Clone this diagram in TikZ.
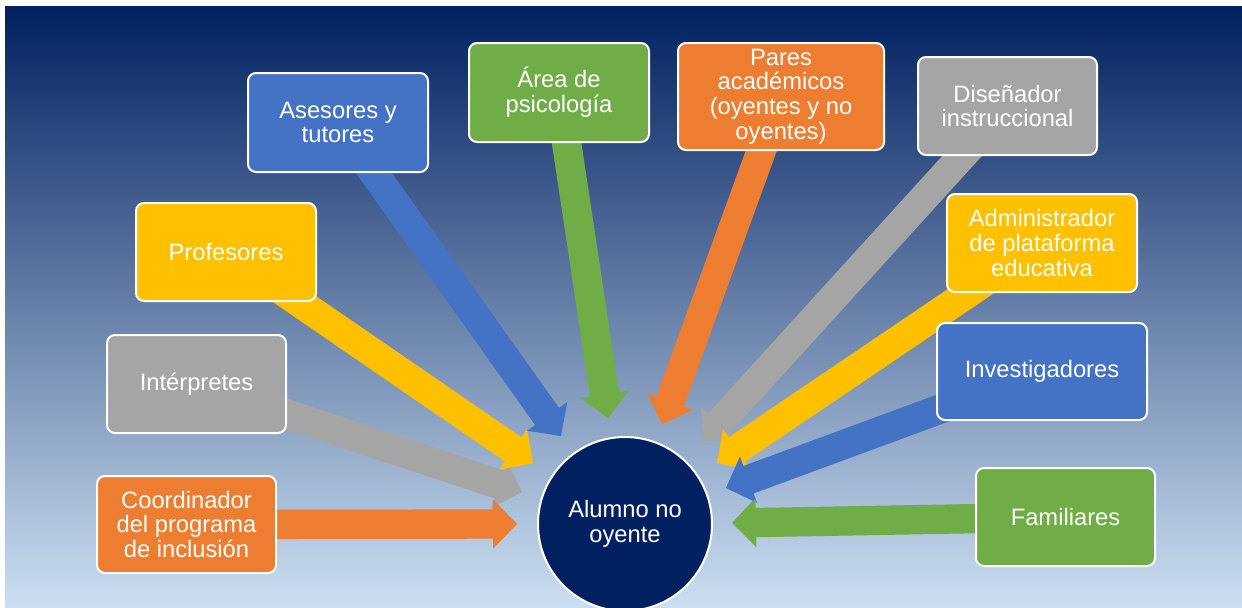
\documentclass[tikz,border=0pt]{standalone}
\usepackage{fontspec}
\setmainfont{Liberation Sans}
\usetikzlibrary{calc}
\definecolor{cblue}{HTML}{4472C4}
\definecolor{cgreen}{HTML}{70AD47}
\definecolor{corange}{HTML}{ED7D31}
\definecolor{cgray}{HTML}{A5A5A5}
\definecolor{cyellow}{HTML}{FFC000}
\definecolor{navy}{HTML}{002060}
\definecolor{bgtop}{HTML}{002060}
\definecolor{bgmid}{HTML}{7492BF}
\definecolor{bgbot}{HTML}{CCDFF1}
\pgfdeclarelayer{back}
\pgfdeclarelayer{arr}
\pgfsetlayers{back,arr,main}
% #1 source node, #2 tip coordinate, #3 colour
\newcommand\blockarrow[3]{%
  \path ($(#2)!18pt!(#1.center)$) coordinate (h);
  \fill[#3] ($(#1.center)!11pt!90:(#2)$) -- ($(h)!11pt!-90:(#1.center)$)
    -- ($(h)!18.5pt!-90:(#1.center)$) -- (#2) -- ($(h)!18.5pt!90:(#1.center)$)
    -- ($(h)!11pt!90:(#1.center)$) -- ($(#1.center)!11pt!-90:(#2)$) -- cycle;}
\begin{document}
\begin{tikzpicture}[x=0.75pt,y=-0.75pt,
  box/.style={rectangle, rounded corners=6pt, draw=white, line width=1.5pt,
    text=white, align=center, inner sep=0pt,
    font=\fontsize{17.8pt}{18.6pt}\selectfont},
  hub/.style={circle, fill=navy, draw=white, line width=1.5pt, text=white,
    align=center, minimum size=130.5pt, inner sep=0pt,
    font=\fontsize{17.8pt}{18.6pt}\selectfont}]
\useasboundingbox (0,0) rectangle (1242,607);
\begin{pgfonlayer}{back}
\fill[top color=bgtop, middle color=bgmid, bottom color=bgbot] (5,6) rectangle (1242,607);
\end{pgfonlayer}

\node[box, fill=cblue, minimum width=135pt, minimum height=74.25pt] (ases) at (338,122.5) {Asesores y\\tutores};
\node[box, fill=cgreen, minimum width=135pt, minimum height=74.25pt] (psic) at (559,92.5) {Área de\\psicología};
\node[box, fill=corange, minimum width=154.5pt, minimum height=80.25pt] (pares) at (781,96.5) {Pares\\académicos\\(oyentes y no\\oyentes)};
\node[box, fill=cgray, minimum width=134.25pt, minimum height=73.5pt] (dise) at (1007.5,106) {Diseñador\\instruccional};
\node[box, fill=cyellow, minimum width=142.5pt, minimum height=73.5pt] (admin) at (1042,243) {Administrador\\de plataforma\\educativa};
\node[box, fill=cblue, minimum width=157.5pt, minimum height=72.75pt] (inv) at (1042,371.5) {Investigadores};
\node[box, fill=cgreen, minimum width=134.25pt, minimum height=73.5pt] (fam) at (1065.5,517) {Familiares};
\node[box, fill=cyellow, minimum width=135pt, minimum height=73.5pt] (prof) at (226,252) {Profesores};
\node[box, fill=cgray, minimum width=134.25pt, minimum height=73.5pt] (inter) at (196.5,384) {Intérpretes};
\node[box, fill=corange, minimum width=134.25pt, minimum height=72.75pt] (coord) at (186.5,524.5) {Coordinador\\del programa\\de inclusión};

\node[hub] (alum) at (625,524) {Alumno no\\oyente};

\coordinate (tases) at (561,436);
\coordinate (tpsic) at (608,418);
\coordinate (tpares) at (662,424);
\coordinate (tdise) at (703,441);
\coordinate (tadmin) at (717,463);
\coordinate (tinv) at (726,488);
\coordinate (tfam) at (732,523);
\coordinate (tprof) at (533,463);
\coordinate (tinter) at (522,492);
\coordinate (tcoord) at (517,524);

\begin{pgfonlayer}{arr}
\blockarrow{inter}{tinter}{cgray}
\blockarrow{prof}{tprof}{cyellow}
\blockarrow{ases}{tases}{cblue}
\blockarrow{psic}{tpsic}{cgreen}
\blockarrow{pares}{tpares}{corange}
\blockarrow{dise}{tdise}{cgray}
\blockarrow{admin}{tadmin}{cyellow}
\blockarrow{inv}{tinv}{cblue}
\blockarrow{fam}{tfam}{cgreen}
\blockarrow{coord}{tcoord}{corange}
\end{pgfonlayer}
\end{tikzpicture}
\end{document}
